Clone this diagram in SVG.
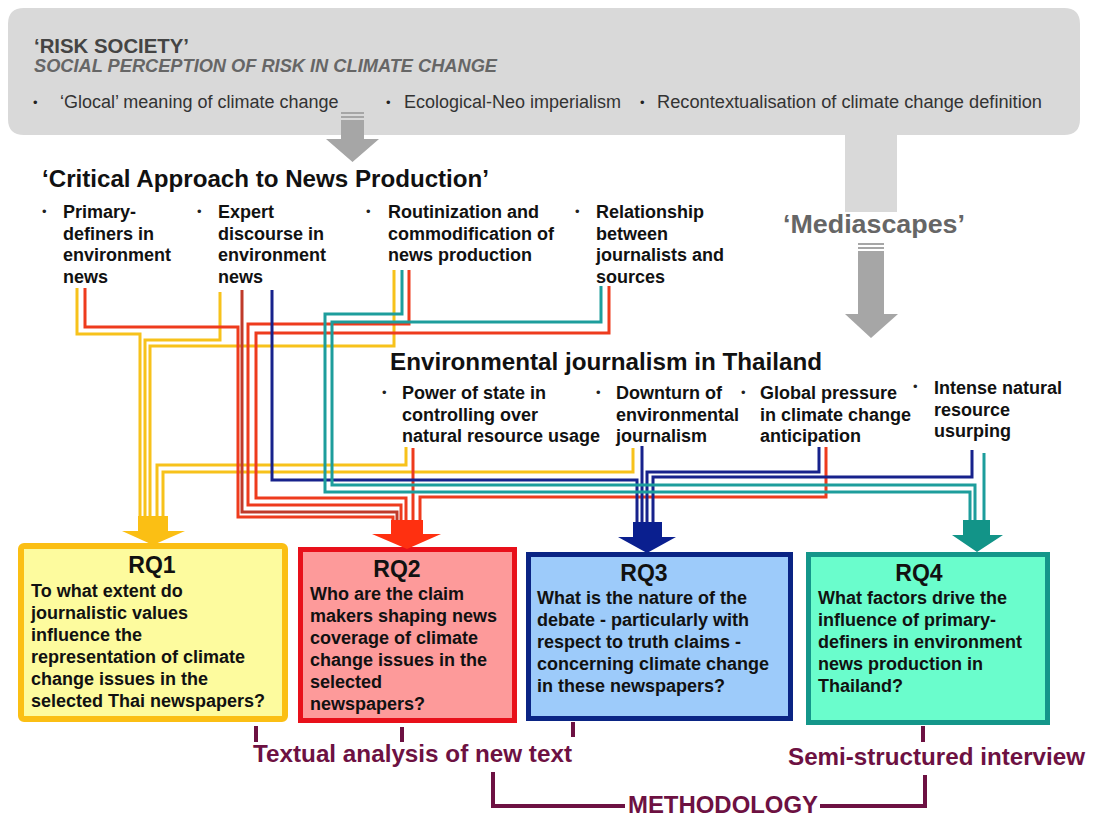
<svg xmlns="http://www.w3.org/2000/svg" width="1093" height="816" viewBox="0 0 1093 816">
<style>
text{font-family:"Liberation Sans",Arial,Helvetica,sans-serif}
.b{font-weight:bold}
.body{font-size:18px;font-weight:bold;fill:#111}
.bul{font-size:13px;fill:#222}
.top{font-size:18px;fill:#333}
.ttl{font-size:23px;font-weight:bold;fill:#111}
.rqt{font-size:23px;font-weight:bold;fill:#111;text-anchor:middle}
.meth{font-size:24px;font-weight:bold;fill:#6d1142}
.ln{fill:none;stroke-width:3;stroke-linejoin:miter}
.y{stroke:#f7c21b}.r{stroke:#ee3b1d}.dr{stroke:#bf3a2a}.n{stroke:#17228c}.tl{stroke:#1d9d9c}
.ml{fill:none;stroke:#6d1142;stroke-width:4}
.gar{fill:#a6a6a6}
</style>
<rect width="1093" height="816" fill="#fff"/>

<g id="risk-society">
<path d="M24,8 H1064 Q1080,8 1080,24 V119 Q1080,135 1064,135 H897 V212 H845 V135 H24 Q8,135 8,119 V24 Q8,8 24,8 Z" fill="#d9d9d9"/>
<text x="34" y="53" class="b" font-size="21" fill="#444" textLength="155" lengthAdjust="spacingAndGlyphs">‘RISK SOCIETY’</text>
<text x="34" y="72" class="b" font-size="18" font-style="italic" fill="#666" textLength="463" lengthAdjust="spacingAndGlyphs">SOCIAL PERCEPTION OF RISK IN CLIMATE CHANGE</text>
<text x="33" y="107" class="bul">•</text>
<text x="60" y="108" class="top">‘Glocal’ meaning of climate change</text>
<text x="386" y="107" class="bul">•</text>
<text x="404" y="108" class="top">Ecological-Neo imperialism</text>
<text x="640" y="107" class="bul">•</text>
<text x="657" y="108" class="top" textLength="385" lengthAdjust="spacingAndGlyphs">Recontextualisation of climate change definition</text>
<rect x="341" y="112" width="23" height="2" class="gar"/>
<rect x="341" y="116" width="23" height="2" class="gar"/>
<path d="M341,120 H364 V139 H379 L352.5,162 L326,139 H341 Z" class="gar"/>
</g>

<g id="mediascapes">
<text x="783" y="233" class="b" font-size="26" fill="#666" textLength="182" lengthAdjust="spacingAndGlyphs">‘Mediascapes’</text>
<rect x="858" y="243" width="26" height="2" class="gar"/>
<rect x="858" y="247" width="26" height="2" class="gar"/>
<path d="M858,251 H884 V314 H898 L871,338 L845,314 H858 Z" class="gar"/>
</g>

<g id="critical-approach">
<text x="42" y="187" class="ttl" textLength="447" lengthAdjust="spacingAndGlyphs">‘Critical Approach to News Production’</text>
<text x="42" y="216" class="bul">•</text>
<text class="body"><tspan x="63" y="218">Primary-</tspan><tspan x="63" y="239.5">definers in</tspan><tspan x="63" y="261">environment</tspan><tspan x="63" y="282.5">news</tspan></text>
<text x="197" y="216" class="bul">•</text>
<text class="body"><tspan x="218" y="218">Expert</tspan><tspan x="218" y="239.5">discourse in</tspan><tspan x="218" y="261">environment</tspan><tspan x="218" y="282.5">news</tspan></text>
<text x="366" y="216" class="bul">•</text>
<text class="body"><tspan x="388" y="218">Routinization and</tspan><tspan x="388" y="239.5">commodification of</tspan><tspan x="388" y="261">news production</tspan></text>
<text x="575" y="216" class="bul">•</text>
<text class="body"><tspan x="596" y="218">Relationship</tspan><tspan x="596" y="239.5">between</tspan><tspan x="596" y="261">journalists and</tspan><tspan x="596" y="282.5">sources</tspan></text>
</g>

<g id="env-journalism">
<text x="390" y="370" class="ttl" textLength="432" lengthAdjust="spacingAndGlyphs">Environmental journalism in Thailand</text>
<text x="382" y="397" class="bul">•</text>
<text class="body"><tspan x="402" y="399">Power of state in</tspan><tspan x="402" y="420.5">controlling over</tspan><tspan x="402" y="442">natural resource usage</tspan></text>
<text x="596" y="397" class="bul">•</text>
<text class="body"><tspan x="616" y="399">Downturn of</tspan><tspan x="616" y="420.5">environmental</tspan><tspan x="616" y="442">journalism</tspan></text>
<text x="741" y="397" class="bul">•</text>
<text class="body"><tspan x="760" y="399">Global pressure</tspan><tspan x="760" y="420.5">in climate change</tspan><tspan x="760" y="442">anticipation</tspan></text>
<text x="913" y="391" class="bul">•</text>
<text class="body"><tspan x="934" y="394">Intense natural</tspan><tspan x="934" y="415.5">resource</tspan><tspan x="934" y="437">usurping</tspan></text>
</g>

<g id="rq1">
<rect x="21" y="546" width="264" height="173" rx="3" fill="#fdfb9e" stroke="#fbbf14" stroke-width="6"/>
<text x="152" y="573" class="rqt">RQ1</text>
<text class="body"><tspan x="31" y="597">To what extent do</tspan><tspan x="31" y="619">journalistic values</tspan><tspan x="31" y="641">influence  the</tspan><tspan x="31" y="663">representation of climate</tspan><tspan x="31" y="685">change issues in the</tspan><tspan x="31" y="707">selected Thai newspapers?</tspan></text>
</g>

<g id="rq2">
<rect x="300.5" y="549.5" width="214" height="171" fill="#fd9a9a" stroke="#e8101a" stroke-width="5"/>
<text x="397" y="577" class="rqt">RQ2</text>
<text class="body"><tspan x="310" y="600">Who are the claim</tspan><tspan x="310" y="622">makers shaping news</tspan><tspan x="310" y="644">coverage of climate</tspan><tspan x="310" y="666">change issues in the</tspan><tspan x="310" y="688">selected</tspan><tspan x="310" y="710">newspapers?</tspan></text>
</g>

<g id="rq3">
<rect x="528.5" y="554.5" width="262" height="164" fill="#9dcbfa" stroke="#0a2484" stroke-width="5"/>
<text x="644" y="581" class="rqt">RQ3</text>
<text class="body"><tspan x="537" y="604">What is the nature of the</tspan><tspan x="537" y="626">debate - particularly with</tspan><tspan x="537" y="648">respect to truth claims -</tspan><tspan x="537" y="670">concerning climate change</tspan><tspan x="537" y="692">in these newspapers?</tspan></text>
</g>

<g id="rq4">
<rect x="808.5" y="554.5" width="239" height="168" fill="#6afdcc" stroke="#14968a" stroke-width="5"/>
<text x="919" y="581" class="rqt">RQ4</text>
<text class="body"><tspan x="818" y="604">What factors drive the</tspan><tspan x="818" y="626">influence of primary-</tspan><tspan x="818" y="648">definers in environment</tspan><tspan x="818" y="670">news production in</tspan><tspan x="818" y="692">Thailand?</tspan></text>
</g>

<g id="connectors">
<path class="ln y" d="M77,288 V334 H140 V520"/>
<path class="ln y" d="M220,292 V340 H145 V520"/>
<path class="ln y" d="M394,270 V346 H150 V520"/>
<path class="ln y" d="M406,447 V465 H157 V520"/>
<path class="ln y" d="M633,448 V472 H163 V520"/>
<path class="ln r" d="M85,288 V327 H238 V517 H393 V524"/>
<path class="ln dr" d="M242,290 V512 H397 V524"/>
<path class="ln r" d="M409,270 V324 H248 V505 H401 V524"/>
<path class="ln r" d="M609,286 V333 H256 V498 H406 V524"/>
<path class="ln r" d="M413,448 V524"/>
<path class="ln r" d="M826,447 V497 H420 V524"/>
<path class="ln n" d="M272,290 V480 H637 V526"/>
<path class="ln n" d="M642,446 V526"/>
<path class="ln n" d="M819,447 V472 H647 V526"/>
<path class="ln n" d="M972,450 V477 H653 V526"/>
<path class="ln tl" d="M402,270 V314 H325 V492 H970 V524"/>
<path class="ln tl" d="M601,286 V322 H332 V485 H975 V524"/>
<path class="ln tl" d="M984,453 V524"/>
<path d="M138,516 H168 V531 H185 L153,545 L122,531 H138 Z" fill="#fbbf14"/>
<path d="M391,520 H423 V534 H441 L407,549 L372,534 H391 Z" fill="#ff3010"/>
<path d="M633,522 H662 V537 H676 L647,553 L618,537 H633 Z" fill="#0a1f8f"/>
<path d="M963,520 H990 V535 H1003 L977,552 L952,535 H963 Z" fill="#129488"/>
</g>

<g id="methodology">
<path class="ml" d="M256,726 V742"/>
<path class="ml" d="M402,727 V742"/>
<path class="ml" d="M573,722 V737"/>
<path class="ml" d="M923,726 V742"/>
<path class="ml" d="M493,772 V806 H625"/>
<path class="ml" d="M820,806 H925 V775"/>
<text x="253" y="762" class="meth" textLength="319" lengthAdjust="spacingAndGlyphs">Textual analysis of new text</text>
<text x="788" y="765" class="meth" textLength="297" lengthAdjust="spacingAndGlyphs">Semi-structured interview</text>
<text x="628" y="813" class="meth" textLength="190" lengthAdjust="spacingAndGlyphs">METHODOLOGY</text>
</g>
</svg>
